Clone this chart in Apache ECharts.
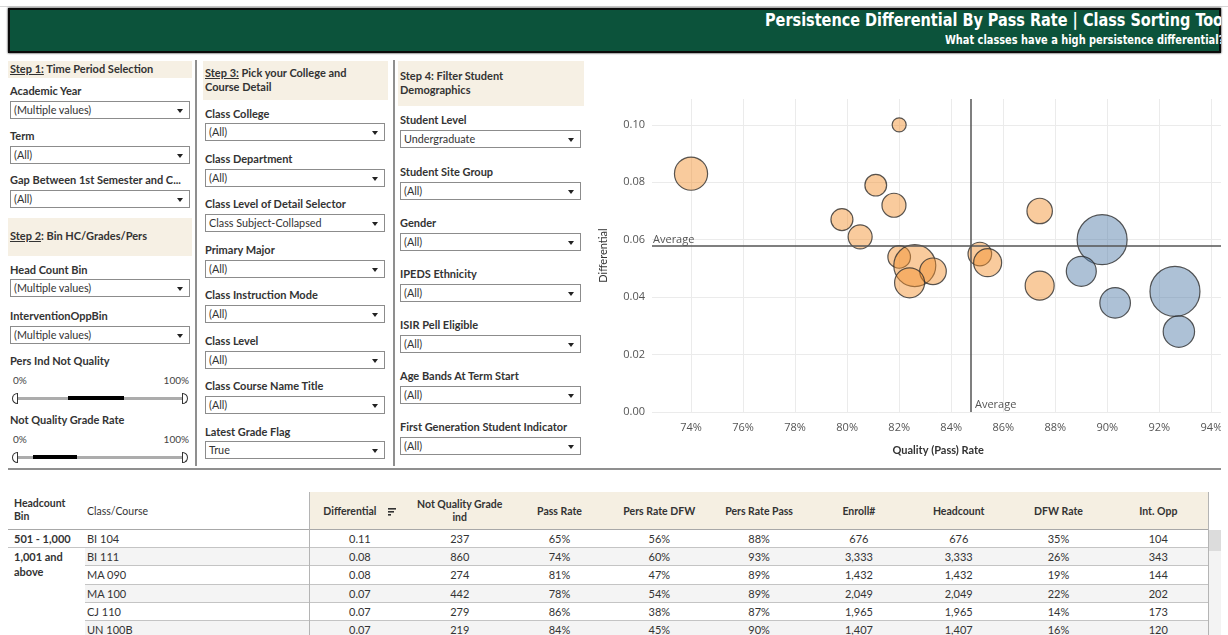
<!DOCTYPE html>
<html>
<head>
<meta charset="utf-8">
<title>Persistence Differential By Pass Rate</title>
<script src="https://cdn.jsdelivr.net/npm/echarts@6/dist/echarts.min.js"></script>
<style>
  body { margin: 0; width: 1228px; height: 635px; overflow: hidden; position: relative; background: #fff;
         font-family: Lato, "Noto Sans", sans-serif; color: #333; }
  .topline { position: absolute; left: 0; top: 6px; width: 1228px; height: 1px; background: #d6d6d6; }
  .header { position: absolute; left: 8px; top: 8px; width: 1213px; height: 45px; background: #0c533b;
            box-shadow: inset 0 0 0 2px #0b0b0b, 0 0 2px #000; overflow: hidden; }
  .header .t1 { position: absolute; left: 757px; top: 2px; white-space: nowrap; color: #fff; font-weight: 700;
                font-size: 17px; font-family: "Liberation Sans Narrow", "DejaVu Sans Condensed", sans-serif;
                font-stretch: condensed; transform: scaleX(0.945); transform-origin: left center; }
  .header .t2 { position: absolute; left: 937px; top: 25px; white-space: nowrap; color: #fff; font-weight: 700;
                font-size: 11.5px; font-family: "Liberation Sans Narrow", "DejaVu Sans Condensed", sans-serif;
                font-stretch: condensed; transform: scaleX(0.95); transform-origin: left center; }
  .step { position: absolute; background: #f6f0e4; font-size: 11px; font-weight: 700; line-height: 14px; box-sizing: border-box; padding-left: 2px; }
  .lbl { position: absolute; font-size: 11px; font-weight: 700; line-height: 14px; white-space: nowrap; }
  .small { position: absolute; font-size: 10px; line-height: 12px; color: #444; }
  .dd { position: absolute; height: 18px; border: 1px solid #8c8c8c; background: #fff; font-size: 10.8px; line-height: 16px;
        padding-left: 3px; box-sizing: border-box; white-space: nowrap; }
  .dd::after { content: ''; position: absolute; right: 6px; top: 7px; border-left: 3px solid transparent;
               border-right: 3px solid transparent; border-top: 4px solid #222; }
  .vsep { position: absolute; width: 2px; background: #8f8f8f; }
  .hsep { position: absolute; height: 2px; background: #8f8f8f; }
  .track { position: absolute; height: 3px; background: #acacac; }
  .range { position: absolute; height: 4px; background: #000; }
  .hl, .hr { position: absolute; width: 6px; height: 11px; border: 1px solid #333; background: #fff; box-sizing: border-box; }
  .hl { border-radius: 6px 0 0 6px; }
  .hr { border-radius: 0 6px 6px 0; }
  .cell { position: absolute; font-size: 11px; line-height: 18px; text-align: center; white-space: nowrap; color: #333; }
  .th { position: absolute; font-size: 10.5px; font-weight: 700; line-height: 13px; text-align: center; color: #333;
        display: flex; align-items: center; justify-content: center; }
  #clip { position: absolute; left: 590px; top: 90px; width: 631px; height: 375px; overflow: hidden; }
  #chart { width: 650px; height: 375px; }
</style>
</head>
<body>
<div class="topline"></div>
<div class="header">
  <div class="t1">Persistence Differential By Pass Rate | Class Sorting Tool</div>
  <div class="t2">What classes have a high persistence differential?</div>
</div>

<div class="step" style="left:8px;top:61px;width:184px;height:17px;padding-top:1px"><u>Step 1:</u> Time Period Selection</div>
<div class="step" style="left:8px;top:218px;width:184px;height:38px;padding-top:11px"><u>Step 2</u>: Bin HC/Grades/Pers</div>
<div class="step" style="left:203px;top:61px;width:185px;height:39px;padding-top:5px"><u>Step 3:</u> Pick your College and<br>Course Detail</div>
<div class="step" style="left:398px;top:61px;width:186px;height:45px;padding-top:8px">Step 4: Filter Student<br>Demographics</div>

<div class="vsep" style="left:195px;top:60px;height:406px"></div>
<div class="vsep" style="left:393px;top:60px;height:406px"></div>
<div class="hsep" style="left:8px;top:468px;width:1213px"></div>

<div id="filters"></div>
<div id="table"></div>

<div id="clip"><div id="chart"></div></div>

<script>
// ---- scatter data: quality (pass) rate in %, differential, headcount (bubble size)
const orangePass = [74.0, 82.0, 81.1, 81.8, 79.8, 80.5, 82.0, 82.6, 83.3, 82.4, 85.1, 85.4, 87.4, 87.4];
const orangeDiff = [0.083, 0.100, 0.079, 0.072, 0.067, 0.061, 0.054, 0.051, 0.049, 0.045, 0.055, 0.052, 0.070, 0.044];
const orangeHead = [3333, 600, 1432, 1750, 1470, 1750, 1550, 5350, 2150, 2730, 1690, 2380, 1965, 2550];

const bluePass = [89.8, 89.0, 90.3, 92.6, 92.75];
const blueDiff = [0.060, 0.049, 0.038, 0.042, 0.028];
const blueHead = [7590, 2730, 2840, 7590, 2990];

const avgPass = 84.76;
const avgDiff = 0.0578;

// ---- table data
const tableCols = ['Differential', 'Not Quality Grade<br>ind', 'Pass Rate', 'Pers Rate DFW', 'Pers Rate Pass',
                   'Enroll#', 'Headcount', 'DFW Rate', 'Int. Opp'];
const courses = ['BI 104', 'BI 111', 'MA 090', 'MA 100', 'CJ 110', 'UN 100B'];
const diffCol = [0.11, 0.08, 0.08, 0.07, 0.07, 0.07];
const notQuality = [237, 860, 274, 442, 279, 219];
const passCol = [65, 74, 81, 78, 86, 84];
const persDfw = [56, 60, 47, 54, 38, 45];
const persPass = [88, 93, 89, 89, 87, 90];
const enroll = [676, 3333, 1432, 2049, 1965, 1407];
const headcount = [676, 3333, 1432, 2049, 1965, 1407];
const dfwRate = [35, 26, 19, 22, 14, 16];
const intOpp = [104, 343, 144, 202, 173, 120];

// ---- filter panels
const filters = document.getElementById('filters');
function addFilter(x, w, label, value, labelY, ddTop) {
  filters.insertAdjacentHTML('beforeend',
    `<div class="lbl" style="left:${x + 2}px;top:${labelY - 7}px">${label}</div>` +
    `<div class="dd" style="left:${x + 2}px;top:${ddTop}px;width:${w - 4}px">${value}</div>`);
}
function addSlider(x, w, labelY, from, to) {
  filters.insertAdjacentHTML('beforeend',
    `<div class="small" style="left:${x + 5}px;top:${labelY - 6}px">0%</div>` +
    `<div class="small" style="left:${x + w - 40}px;top:${labelY - 6}px;width:37px;text-align:right">100%</div>` +
    `<div class="track" style="left:${x + 9}px;top:${labelY + 17}px;width:${w - 18}px"></div>` +
    `<div class="range" style="left:${from}px;top:${labelY + 16}px;width:${to - from}px"></div>` +
    `<div class="hl" style="left:${x + 4}px;top:${labelY + 13}px"></div>` +
    `<div class="hr" style="left:${x + w - 10}px;top:${labelY + 13}px"></div>`);
}
addFilter(8, 184, 'Academic Year', '(Multiple values)', 91, 101);
addFilter(8, 184, 'Term', '(All)', 136, 146);
addFilter(8, 184, 'Gap Between 1st Semester and C...', '(All)', 180, 190);
addFilter(8, 184, 'Head Count Bin', '(Multiple values)', 270, 279);
addFilter(8, 184, 'InterventionOppBin', '(Multiple values)', 316, 326);
filters.insertAdjacentHTML('beforeend', `<div class="lbl" style="left:10px;top:354px">Pers Ind Not Quality</div>`);
addSlider(8, 184, 380, 68, 124);
filters.insertAdjacentHTML('beforeend', `<div class="lbl" style="left:10px;top:413px">Not Quality Grade Rate</div>`);
addSlider(8, 184, 439, 33, 77);

addFilter(203, 184, 'Class College', '(All)', 114, 123);
addFilter(203, 184, 'Class Department', '(All)', 159, 169);
addFilter(203, 184, 'Class Level of Detail Selector', 'Class Subject-Collapsed', 204, 214);
addFilter(203, 184, 'Primary Major', '(All)', 250, 260);
addFilter(203, 184, 'Class Instruction Mode', '(All)', 295, 305);
addFilter(203, 184, 'Class Level', '(All)', 341, 351);
addFilter(203, 184, 'Class Course Name Title', '(All)', 386, 396);
addFilter(203, 184, 'Latest Grade Flag', 'True', 432, 441);

addFilter(398, 185, 'Student Level', 'Undergraduate', 120, 130);
addFilter(398, 185, 'Student Site Group', '(All)', 172, 182);
addFilter(398, 185, 'Gender', '(All)', 223, 233);
addFilter(398, 185, 'IPEDS Ethnicity', '(All)', 274, 284);
addFilter(398, 185, 'ISIR Pell Eligible', '(All)', 325, 335);
addFilter(398, 185, 'Age Bands At Term Start', '(All)', 376, 386);
addFilter(398, 185, 'First Generation Student Indicator', '(All)', 427, 437);

// ---- table
const table = document.getElementById('table');
const colX = 310, colW = 99.8, rowTop = 530, rowH = 18.2;
const pct = v => v + '%';
const num = v => v.toLocaleString('en-US');
const columns = [
  diffCol.map(v => v.toFixed(2)), notQuality.map(num), passCol.map(pct), persDfw.map(pct), persPass.map(pct),
  enroll.map(num), headcount.map(num), dfwRate.map(pct), intOpp.map(num)
];
let html = `<div style="position:absolute;left:${colX}px;top:492px;width:${colW * 9}px;height:38px;background:#f5efe2"></div>`;
html += `<div class="th" style="left:14px;top:497px;text-align:left;display:block">Headcount<br>Bin</div>`;
html += `<div class="th" style="left:87px;top:505px;display:block;font-weight:400">Class/Course</div>`;
tableCols.forEach((name, k) => {
  let extra = '';
  if (k === 0) {
    extra = `<svg width="8" height="9" style="margin-left:12px"><rect x="0" y="1" width="8" height="1.6" fill="#333"/>` +
            `<rect x="0" y="4" width="6" height="1.6" fill="#333"/><rect x="0" y="7" width="3" height="1.6" fill="#333"/></svg>`;
  }
  html += `<div class="th" style="left:${colX + k * colW}px;top:492px;width:${colW}px;height:38px">` +
          `<span>${name}</span>${extra}</div>`;
});
courses.forEach((c, i) => {
  const y = rowTop + i * rowH;
  const bg = i % 2 === 1 ? '#f4f4f4' : '#fff';
  const lineLeft = i === 0 ? 8 : 85;
  html += `<div style="position:absolute;left:85px;top:${y}px;width:${1208 - 85}px;height:${rowH}px;background:${bg}"></div>`;
  html += `<div style="position:absolute;left:${lineLeft}px;top:${y + rowH - 1}px;width:${1208 - lineLeft}px;height:1px;background:#c4c4c4"></div>`;
  html += `<div class="cell" style="left:87px;top:${y}px;text-align:left">${c}</div>`;
  columns.forEach((col, k) => {
    html += `<div class="cell" style="left:${colX + k * colW}px;top:${y}px;width:${colW}px">${col[i]}</div>`;
  });
});
html += `<div class="cell" style="left:14px;top:${rowTop}px;text-align:left;font-weight:700">501 - 1,000</div>`;
html += `<div class="cell" style="left:14px;top:${rowTop + rowH + 1}px;text-align:left;font-weight:700;line-height:15px">1,001 and<br>above</div>`;
html += `<div style="position:absolute;left:8px;top:${rowTop - 1}px;width:1200px;height:1px;background:#a8a8a8"></div>`;
html += `<div style="position:absolute;left:${colX - 1}px;top:492px;width:1px;height:143px;background:#b4b4b4"></div>`;
html += `<div style="position:absolute;left:1208px;top:492px;width:1px;height:143px;background:#b4b4b4"></div>`;
html += `<div style="position:absolute;left:1209px;top:${rowTop}px;width:12px;height:105px;background:#f3f3f3"></div>`;
html += `<div style="position:absolute;left:1209px;top:${rowTop}px;width:12px;height:21px;background:#dcdcdc"></div>`;
table.innerHTML = html;

// ---- scatter chart
const chart = echarts.init(document.getElementById('chart'), null, { renderer: 'canvas' });
const bubble = v => Math.sqrt(v[2]) * 0.574;
const axisFont = { color: '#555', fontSize: 11, fontFamily: '"Open Sans", sans-serif' };

chart.setOption({
  animation: false,
  grid: { left: 58, top: 9, width: 576.4, height: 313 },
  xAxis: {
    type: 'value',
    min: 72.5,
    max: 94.5,
    splitNumber: 11,
    name: 'Quality (Pass) Rate',
    nameLocation: 'middle',
    nameGap: 33,
    nameTextStyle: { color: '#333', fontSize: 11, fontWeight: 'bold', fontFamily: 'Lato, sans-serif' },
    axisLine: { show: false },
    axisTick: { show: false },
    axisLabel: { ...axisFont, margin: 10, formatter: '{value}%', showMinLabel: false, showMaxLabel: false },
    splitLine: { show: true, showMinLine: false, showMaxLine: false, lineStyle: { color: '#ebebeb' } }
  },
  yAxis: {
    type: 'value',
    min: 0,
    max: 0.109,
    interval: 0.02,
    name: 'Differential',
    nameLocation: 'middle',
    nameGap: 43,
    nameTextStyle: { color: '#333', fontSize: 11, fontFamily: 'Lato, sans-serif' },
    axisLine: { show: false },
    axisTick: { show: false },
    axisLabel: { ...axisFont, margin: 7, formatter: v => v.toFixed(2), showMaxLabel: false },
    splitLine: { show: true, showMaxLine: false, lineStyle: { color: '#ebebeb' } }
  },
  series: [
    {
      name: 'orange',
      type: 'scatter',
      data: orangePass.map((p, i) => [p, orangeDiff[i], orangeHead[i]]),
      symbolSize: bubble,
      itemStyle: { color: 'rgba(242,142,43,0.58)', borderColor: '#2e2e2e', borderWidth: 1.2 },
      markLine: {
        silent: true,
        symbol: 'none',
        precision: 4,
        lineStyle: { color: '#555', width: 1.5, type: 'solid' },
        data: [
          { yAxis: avgDiff, label: { show: true, formatter: 'Average', position: 'insideStartTop', distance: 1,
                                     color: '#555', fontSize: 11, fontFamily: '"Open Sans", sans-serif' } },
          { xAxis: avgPass, label: { show: false } }
        ]
      },
      markPoint: {
        silent: true,
        data: [{ coord: [avgPass, 0], symbol: 'circle', symbolSize: 0,
                 label: { show: true, formatter: 'Average', position: 'right', distance: 4, offset: [0, -7],
                          color: '#555', fontSize: 11, fontFamily: '"Open Sans", sans-serif' } }]
      }
    },
    {
      name: 'blue',
      type: 'scatter',
      data: bluePass.map((p, i) => [p, blueDiff[i], blueHead[i]]),
      symbolSize: bubble,
      itemStyle: { color: 'rgba(78,121,167,0.58)', borderColor: '#2e2e2e', borderWidth: 1.2 }
    }
  ]
});
</script>
</body>
</html>
